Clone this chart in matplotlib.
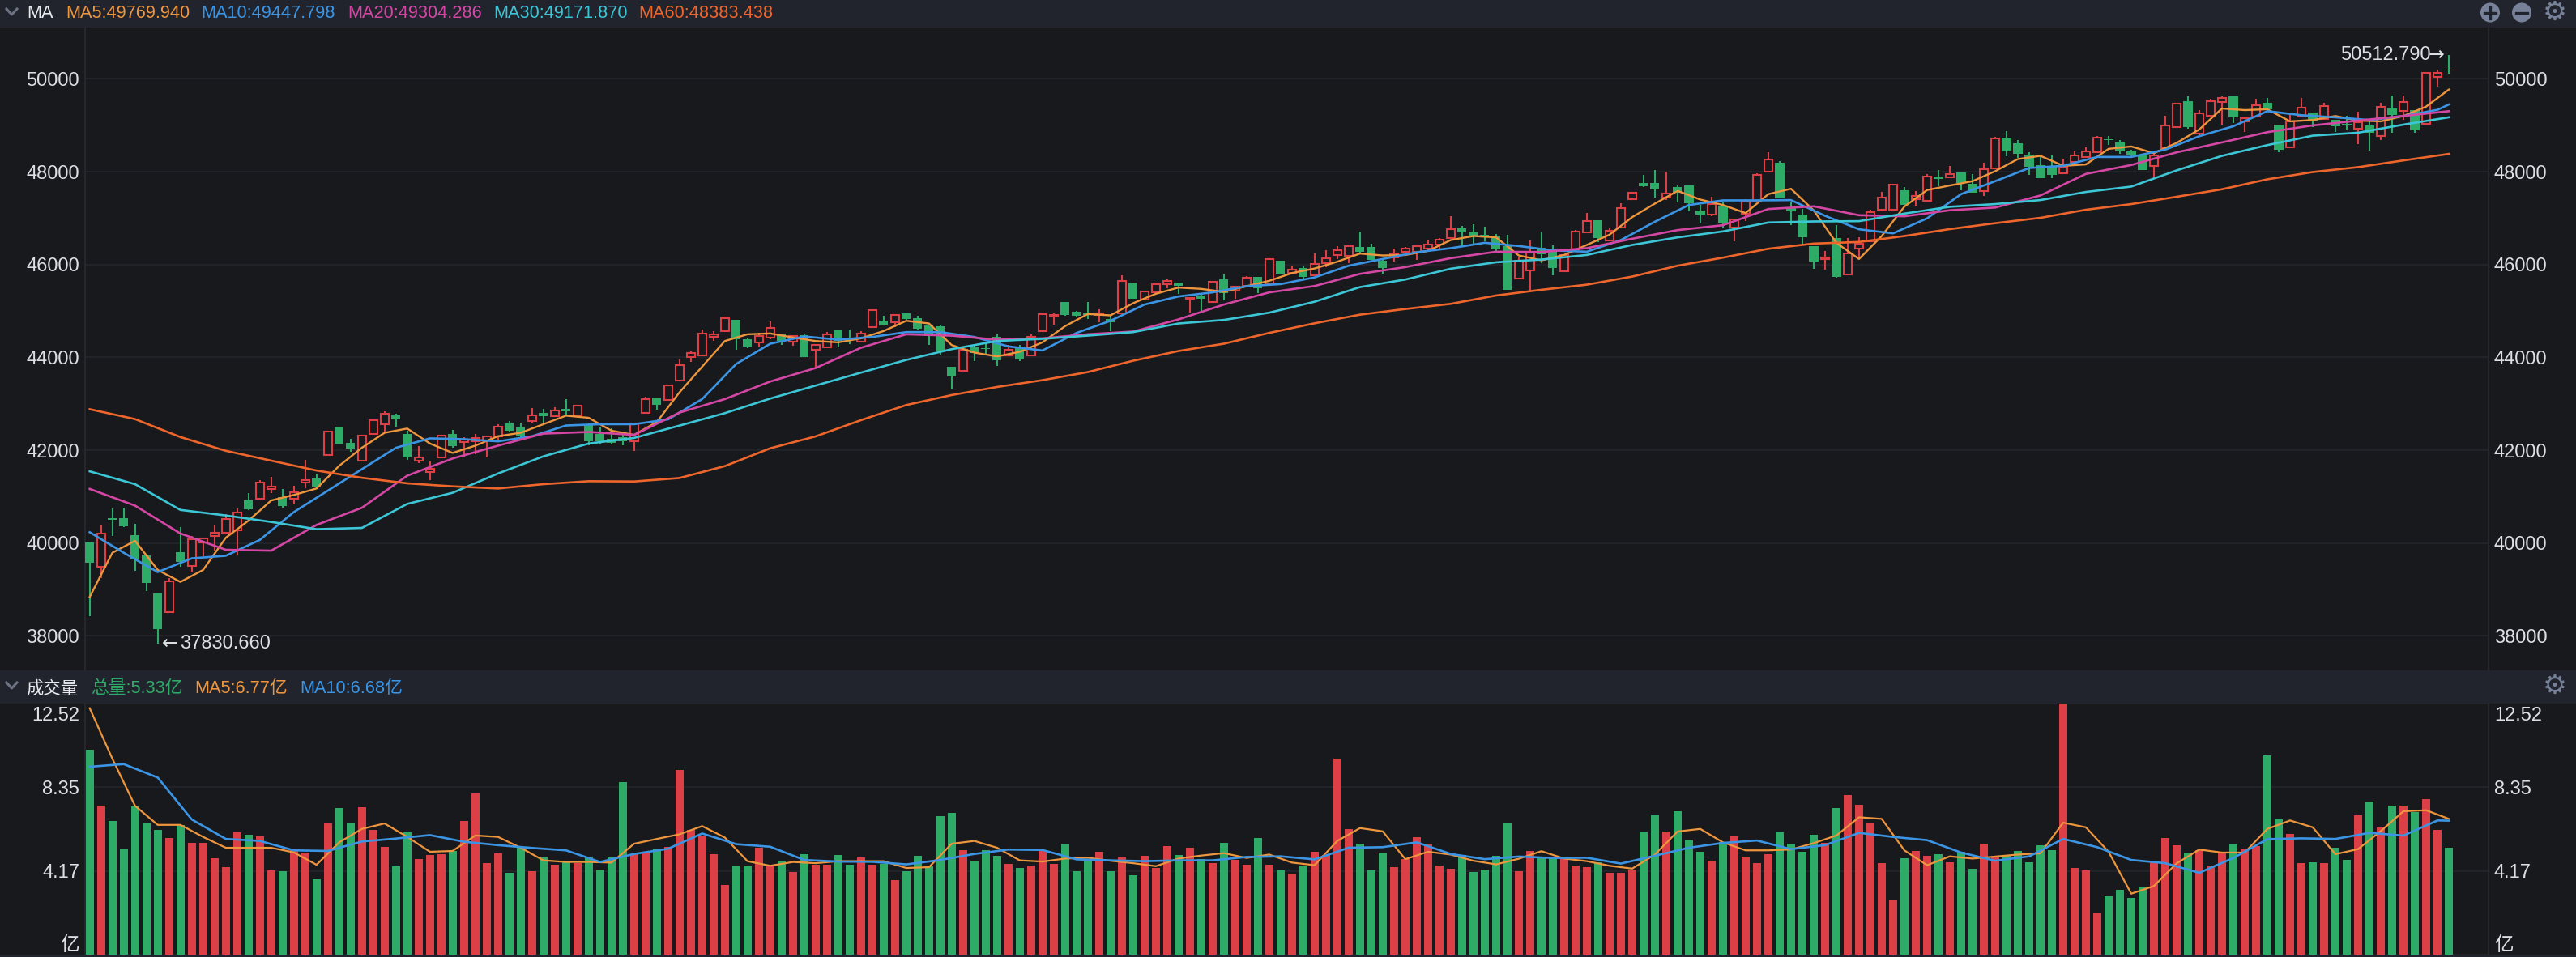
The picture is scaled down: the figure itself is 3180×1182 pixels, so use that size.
import numpy as np
import matplotlib
matplotlib.use('Agg')
import matplotlib.pyplot as plt
from matplotlib.patches import Rectangle, Circle
from matplotlib.transforms import ScaledTranslation

# candles
opens = [40013,39496,40530,40530,40179,39746,38915,38518,39810,39515,
         40022,40161,40226,40281,40917,40955,41167,40992,40955,41296,
         41398,41896,42514,42164,41776,42358,42560,42745,42358,41767,
         41527,41850,42358,42173,42191,42219,42302,42570,42487,42625,
         42810,42727,42884,42745,42561,42358,42238,42284,42191,42811,
         43142,43090,43509,44015,44050,44440,44568,44813,44394,44324,
         44423,44510,44341,44487,44161,44219,44586,44394,44341,44661,
         44801,44755,44952,44848,44685,44673,43800,43713,44219,44208,
         44440,44045,44208,44045,44568,44888,45185,44976,44964,44906,
         44836,44958,45616,45238,45401,45575,45604,45266,45325,45197,
         45674,45430,45546,45732,45579,46085,45829,45922,45771,46039,
         46202,46196,46376,46376,46079,46149,46283,46271,46353,46440,
         46574,46778,46714,46644,46632,46400,45695,45870,46370,46283,
         45852,46324,46696,46952,46516,46801,47401,47761,47761,47441,
         47674,47703,47168,47080,47267,46795,47092,47371,48000,48198,
         47238,47075,46400,46120,46568,45794,46341,46498,47185,47185,
         47598,47413,47373,47900,47877,47982,47738,47576,48069,48736,
         48608,48370,48144,48109,47970,48214,48318,48417,48707,48637,
         48446,48376,48115,48504,48968,49513,48823,49211,49501,49617,
         49084,49182,49478,49014,48533,49188,49269,49142,49113,49037,
         48921,48997,48765,49356,49316,49327,49026,50041,50191]
closes = [39570,40207,40500,40355,39653,39136,38149,39182,39588,40087,
          40096,40226,40511,40659,40733,41305,41222,40807,41093,41361,
          41222,42404,42136,42035,42321,42644,42791,42662,41841,41850,
          41601,42321,42081,42228,42265,42302,42505,42413,42321,42755,
          42736,42856,42838,42958,42191,42191,42164,42191,42579,43102,
          42974,43393,43835,44103,44510,44498,44842,44394,44231,44458,
          44644,44353,44469,44004,44266,44498,44353,44370,44516,45022,
          44685,44906,44819,44615,44458,44132,43585,44167,44103,44184,
          43946,44167,43963,44452,44935,44923,44923,44894,44917,44947,
          44760,45645,45272,45418,45575,45645,45534,45284,45255,45622,
          45389,45517,45721,45488,46120,45812,45887,45742,46021,46138,
          46318,46394,46277,46108,45934,46237,46341,46400,46440,46528,
          46755,46685,46615,46586,46330,45462,46091,46260,46225,45928,
          46208,46714,46929,46574,46731,47208,47546,47692,47610,47534,
          47546,47325,47069,47302,46888,46976,47360,47930,48256,47430,
          47139,46586,46074,46155,45730,46248,46458,47121,47435,47715,
          47284,47477,47895,47848,47953,47761,47547,48057,48718,48434,
          48388,48098,47866,47935,48109,48353,48434,48730,48689,48434,
          48359,48040,48359,48991,49461,48956,49258,49513,49594,49171,
          49153,49432,49345,48475,49084,49385,49101,49420,48985,49014,
          49072,48840,49403,49229,49501,48898,50128,50128,50174]
highs = [40013,40392,40752,40761,40419,39746,38915,39238,40345,40161,
         40124,40392,40622,40752,41084,41361,41435,41158,41241,41792,
         41500,42404,42514,42247,42330,42644,42838,42791,42422,42081,
         41758,42321,42441,42284,42358,42321,42561,42625,42588,42911,
         42884,42930,43096,42958,42580,42514,42470,42394,42579,43160,
         43142,43422,43957,44132,44603,44557,44877,44813,44429,44527,
         44778,44510,44481,44500,44275,44545,44586,44603,44557,45030,
         44894,44935,44952,44894,44702,44680,43800,44170,44295,44306,
         44498,44266,44266,44498,44952,44952,45197,44993,45197,45034,
         44906,45761,45616,45430,45616,45686,45610,45290,45342,45630,
         45779,45530,45750,45732,46130,46085,45975,45957,46248,46312,
         46394,46423,46714,46452,46108,46341,46382,46410,46516,46574,
         47045,46830,46865,46819,46661,46644,46150,46522,46696,46411,
         46215,46743,47109,46952,46778,47313,47560,47936,48041,48006,
         47703,47703,47284,47459,47354,46990,47412,47965,48425,48227,
         47342,47197,46400,46295,46848,46568,46586,47179,47563,47730,
         47674,47587,47953,48040,48127,47990,47953,48196,48753,48869,
         48678,48428,48376,48359,48272,48446,48521,48765,48765,48689,
         48475,48382,48400,49200,49490,49623,49333,49571,49617,49617,
         49188,49565,49594,49020,49258,49594,49275,49478,49120,49200,
         49287,49142,49478,49646,49646,49330,50140,50203,50512.79]
lows = [38435,39238,40161,40340,39395,38961,37830.66,38518,39487,39376,
        39718,39838,40226,39727,40714,40950,41084,40770,40825,41176,
        41176,41896,42136,41961,41776,42330,42376,42515,41785,41730,
        41361,41850,42053,41868,41915,41850,42191,42394,42210,42588,
        42579,42720,42745,42700,42100,42145,42118,42099,41988,42811,
        42869,43090,43509,43899,44030,44353,44568,44161,44208,44237,
        44400,44277,44248,44000,43771,44200,44225,44295,44330,44661,
        44680,44661,44810,44586,44266,44062,43334,43713,43928,44062,
        43812,44030,43916,44040,44560,44702,44900,44860,44830,44760,
        44574,44950,45272,45230,45395,45488,45371,44964,44976,45170,
        45226,45267,45530,45383,45579,45812,45800,45684,45760,45945,
        46120,46039,46260,46100,45812,46062,46190,46108,46277,46324,
        46560,46423,46458,46498,46295,45460,45690,45433,46033,45771,
        45840,46318,46690,46481,46510,46790,47390,47674,47447,47389,
        47342,47150,46877,47040,46789,46498,46935,47360,47995,47425,
        46859,46440,45916,45899,45718,45790,46149,46490,47180,47180,
        47280,47257,47370,47692,47860,47605,47540,47471,48060,48330,
        48301,47935,47860,47854,47953,48200,48290,48410,48579,48388,
        48330,48030,47848,48500,48939,48930,48794,49200,49014,49055,
        48852,49170,49340,48428,48530,49180,48968,49140,48863,48898,
        48591,48463,48678,48834,49113,48834,49020,49838,50116]

# moving averages, read every few candles
ma5 = [38840,39792,40050,39422,39164,39422,40115,40484,40918,41037,41176,41665,42053,
       42376,42468,42145,41942,42099,42302,42376,42561,42745,42699,42422,42330,
       42607,43247,43800,44353,44498,44516,44429,44353,44324,44411,44568,44789,
       44731,44266,44103,44021,44120,44324,44673,44935,44906,45168,45371,45505,
       45476,45412,45534,45650,45817,45916,46062,46237,46196,46207,46295,46528,
       46615,46586,46196,46091,46207,46423,46644,47022,47313,47587,47401,47284,
       47110,47517,47633,47168,46469,46120,46615,47250,47605,47703,47796,48011,
       48272,48341,48127,48156,48492,48544,48399,48620,48910,49362,49327,49345,
       49084,49113,49200,49101,49084,49200,49403,49769.94]
ma10 = [40234,39792,39376,39672,39727,40069,40668,41130,41592,42053,42256,42238,42191,
        42302,42533,42561,42561,42665,43102,43858,44295,44452,44382,44440,44545,
        44545,44440,44237,44149,44527,44789,45139,45313,45401,45534,45579,45724,
        45975,46120,46266,46353,46469,46400,46306,46277,46528,46923,47284,47383,
        47383,47389,47051,46760,46673,46996,47518,47796,48080,48127,48318,48318,
        48475,48765,48979,49304,49217,49171,49113,49200,49333,49447.798]
ma20 = [41167,40807,40207,39856,39838,40392,40761,41453,41822,42099,42358,42394,42330,
        42811,43102,43480,43771,44208,44498,44469,44382,44411,44498,44557,44819,
        45139,45401,45538,45800,45946,46138,46277,46271,46353,46557,46743,46848,
        47197,47255,47063,47040,47170,47228,47489,47953,48144,48417,48631,48852,
        48997,49101,49200,49304.286]
ma30 = [41546,41269,40715,40595,40456,40300,40327,40844,41084,41499,41868,42145,42265,
        42531,42799,43113,43393,43672,43946,44178,44353,44400,44469,44545,44731,
        44807,44964,45200,45515,45678,45911,46050,46108,46207,46423,46586,46714,
        46906,46929,46935,47098,47245,47303,47390,47564,47680,48028,48341,48573,
        48776,48840,49014,49171.87]
ma60 = [42884,42671,42284,41988,41776,41563,41407,41287,41222,41176,41269,41333,41327,
        41402,41658,42042,42298,42648,42974,43189,43363,43509,43684,43928,44138,
        44295,44528,44735,44921,45043,45154,45334,45457,45567,45742,45975,46149,
        46341,46452,46487,46615,46764,46891,47007,47181,47303,47460,47622,47837,
        47993,48098,48243,48383.438]

# volume in 亿
volume = [10.20,7.42,6.65,5.28,7.38,6.57,6.21,5.80,6.45,5.56,
          5.56,4.79,4.35,6.08,5.96,5.88,4.19,4.15,5.30,5.10,
          3.74,6.53,7.30,6.57,7.34,6.21,5.36,4.39,6.08,4.75,
          4.95,4.99,5.16,6.65,8.02,4.55,5.03,4.06,5.36,4.15,
          4.83,4.47,4.62,4.55,4.83,4.23,4.87,8.59,4.99,5.10,
          5.28,5.36,9.21,6.21,5.92,4.99,3.46,4.43,4.43,5.32,
          4.39,4.63,4.11,4.99,4.47,4.47,4.95,4.47,4.83,4.47,
          4.51,3.70,4.15,4.91,4.39,6.89,7.05,5.20,4.67,5.20,
          4.91,4.51,4.31,4.43,5.20,4.51,5.48,4.15,4.63,5.11,
          4.15,4.83,3.94,4.91,4.31,5.40,4.95,5.32,4.75,4.55,
          5.56,4.71,4.47,5.80,4.47,4.19,4.02,4.43,5.11,4.95,
          9.76,6.25,5.52,4.19,5.07,4.35,4.75,5.84,5.52,4.43,
          4.27,4.95,4.11,4.23,4.91,6.57,4.15,5.16,4.87,4.79,
          4.79,4.43,4.35,4.59,4.06,4.06,4.23,6.08,6.93,6.12,
          7.13,5.72,5.11,4.67,5.60,5.88,4.87,4.55,4.99,6.08,
          5.52,5.11,5.96,5.56,7.30,7.94,7.46,6.57,4.55,2.69,
          4.79,5.16,4.91,4.99,4.59,5.11,4.27,5.52,4.87,4.95,
          5.16,4.59,5.44,5.20,12.52,4.31,4.19,2.05,2.89,3.22,
          2.81,3.34,4.59,5.80,5.44,5.07,5.20,4.43,5.07,5.48,
          5.28,5.40,9.92,6.73,6.00,4.55,4.59,4.55,5.32,4.71,
          6.95,7.62,6.33,7.42,7.42,7.09,7.74,6.21,5.33]
vol_ma5 = [12.29,9.77,7.42,6.47,6.47,5.87,5.33,5.33,5.33,5.10,4.48,5.60,6.27,6.54,5.87,
           5.13,5.17,5.94,5.87,5.33,4.70,4.62,4.62,4.59,5.53,5.77,6.00,6.41,5.84,4.66,
           4.43,4.62,4.56,4.66,4.66,4.66,4.32,4.36,5.53,5.67,5.33,4.70,4.64,4.79,4.83,
           4.68,4.56,4.41,4.79,4.94,5.06,4.82,4.99,4.59,4.46,5.67,6.31,6.15,4.76,5.13,
           4.99,4.68,4.50,4.78,5.16,4.79,4.66,4.43,4.29,4.99,6.14,6.27,5.60,5.20,5.20,
           5.24,5.56,5.94,6.85,6.77,5.20,4.46,4.90,4.79,4.89,4.99,5.05,6.58,6.35,5.13,
           3.04,3.42,4.55,5.24,5.09,5.09,6.27,6.69,6.35,5.01,5.26,6.16,7.15,7.20,6.77]
vol_ma10 = [9.37,9.50,8.83,6.74,5.77,5.67,5.20,5.17,5.64,5.79,5.96,5.63,5.46,5.32,5.20,
            4.62,5.02,5.28,6.04,5.51,5.38,4.72,4.64,4.63,4.50,4.72,5.02,5.24,5.22,4.75,
            4.70,4.66,4.70,4.70,4.87,4.90,4.75,5.33,5.36,5.60,5.02,4.76,4.89,4.82,4.83,
            4.54,4.93,5.33,5.57,5.69,5.26,5.46,6.07,5.87,5.71,5.09,4.68,4.90,5.77,5.36,
            4.72,4.56,4.08,4.82,5.76,5.80,5.77,6.07,5.94,6.69,6.68]

price_ticks = [38000,40000,42000,44000,46000,48000,50000]
vol_ticks = [0,4.17,8.35,12.52]
vol_tick_labels = ['亿','4.17','8.35','12.52']

W, H = 3180, 1182
BG = '#18191d'
HEAD = '#21242d'
RED = '#dd3f47'
GREEN = '#2fab68'
C5 = '#ee963e'
C10 = '#3b95e4'
C20 = '#d547a4'
C30 = '#3cc6d6'
C60 = '#ee662c'
TXT = '#dcdfe4'
ICON = '#77829a'
FONT = ['Liberation Sans', 'Noto Sans CJK SC']
plt.rcParams['font.family'] = FONT

def pix_axes(x0, y0, x1, y1):
    # axes placed by pixels, y counted from the top
    return fig.add_axes([x0/W, 1-y1/H, (x1-x0)/W, (y1-y0)/H])

fig = plt.figure(figsize=(W/100, H/100), dpi=100, facecolor=BG)

# page layer in pixel coordinates: header bars, legends, icons
page = fig.add_axes([0,0,1,1], zorder=-1)
page.set_xlim(0,W)
page.set_ylim(H,0)
page.axis('off')
page.add_patch(Rectangle((0,0), W, 34, fc=HEAD, ec='none'))
page.add_patch(Rectangle((0,828), W, 41, fc=HEAD, ec='none'))
page.add_patch(Rectangle((0,1179), W, 3, fc=HEAD, ec='none'))
for yc in [15, 847]:
    page.plot([8,14.5,21], [yc-4,yc+3,yc-4], color='#6d7484', lw=2.2)

page.text(33, 16, 'MA', color='#e8eaee', fontsize=15.7, va='center')
legend_top = [(81,'MA5:49769.940',C5), (248,'MA10:49447.798',C10), (429,'MA20:49304.286',C20),
              (609,'MA30:49171.870',C30), (788,'MA60:48383.438',C60)]
for x, s, c in legend_top:
    page.text(x, 16, s, color=c, fontsize=15.7, va='center')
page.text(32, 850, '成交量', color='#e8eaee', fontsize=15.4, va='center')
legend_vol = [(112,'总量:5.33亿',GREEN), (240,'MA5:6.77亿',C5), (370,'MA10:6.68亿',C10)]
for x, s, c in legend_vol:
    page.text(x, 850, s, color=c, fontsize=15.7, va='center')

# zoom and settings icons
page.add_patch(Circle((3074,15.5), 12, fc=ICON, ec='none'))
page.add_patch(Circle((3113,15.5), 12, fc=ICON, ec='none'))
page.plot([3067,3081], [15.5,15.5], color=HEAD, lw=2.4)
page.plot([3074,3074], [8.5,22.5], color=HEAD, lw=2.4)
page.plot([3106,3120], [15.5,15.5], color=HEAD, lw=2.4)
page.text(3154, 15, '\u2699', color=ICON, fontsize=24, family='DejaVu Sans', ha='center', va='center')
page.text(3154, 847, '\u2699', color=ICON, fontsize=24, family='DejaVu Sans', ha='center', va='center')

x = np.arange(len(opens))
opens = np.array(opens, dtype=float)
closes = np.array(closes, dtype=float)
up = closes >= opens
colors = [RED if u else GREEN for u in up]
X0, X1 = -0.407, 211.5

# price panel
ax = pix_axes(105, 34, 3072, 828)
ax.set_facecolor(BG)
ax.set_xlim(X0, X1)
ax.set_ylim(37258, 51106)
ax.set_yticks(price_ticks)
ax.grid(axis='y', color='#24262c', lw=1.2)
ax.set_axisbelow(True)
ax.vlines(x, lows, highs, colors=colors, lw=1.5, zorder=2)
body_low = np.minimum(opens, closes)
body_h = np.abs(closes-opens)
ax.bar(x[~up], body_h[~up], 0.8, bottom=body_low[~up], color=GREEN, lw=0, zorder=3)
ax.bar(x[up], body_h[up], 0.72, bottom=body_low[up], facecolor=BG, edgecolor=RED, lw=1.5, zorder=3)

steps = [(ma5,2,C5,1.7), (ma10,3,C10,1.9), (ma20,4,C20,1.9), (ma30,4,C30,1.9), (ma60,4,C60,1.9)]
for vals, step, c, lw in steps:
    idx = list(range(0, len(x), step))
    if idx[-1] != len(x)-1:
        idx.append(len(x)-1)
    ax.plot(idx, vals, color=c, lw=lw, zorder=4, solid_joinstyle='round')

# the arrows come from DejaVu, Liberation draws them too small
ax.annotate('\u2190', (6,37830.66), xytext=(4,0), textcoords='offset points', color=TXT,
            fontsize=17, family='DejaVu Sans', va='center', ha='left', zorder=5)
ax.annotate('37830.660', (6,37830.66), xytext=(19.5,0), textcoords='offset points',
            color=TXT, fontsize=17, va='center', ha='left', zorder=5)
ax.annotate('\u2192', (208,50512.79), xytext=(-4,0), textcoords='offset points', color=TXT,
            fontsize=17, family='DejaVu Sans', va='center', ha='right', zorder=5)
ax.annotate('50512.790', (208,50512.79), xytext=(-16,0), textcoords='offset points',
            color=TXT, fontsize=17, va='center', ha='right', zorder=5)

# volume panel
ax2 = pix_axes(105, 869, 3072, 1179)
ax2.set_facecolor(BG)
ax2.set_xlim(X0, X1)
ax2.set_ylim(0, 12.52)
ax2.set_yticks(vol_ticks)
ax2.set_yticklabels(vol_tick_labels)
ax2.grid(axis='y', color='#24262c', lw=1.2)
ax2.set_axisbelow(True)
ax2.bar(x, volume, 0.72, color=colors, lw=0, zorder=2)
for vals, step, c, lw in [(vol_ma5,2,C5,1.6), (vol_ma10,3,C10,1.9)]:
    idx = list(range(0, len(x), step))
    if idx[-1] != len(x)-1:
        idx.append(len(x)-1)
    ax2.plot(idx, vals, color=c, lw=lw, zorder=3)

for a in [ax, ax2]:
    a.set_xticks([])
    a.tick_params(axis='y', length=0, labelleft=True, labelright=True, labelcolor=TXT,
                  labelsize=17, pad=5)
    for s in ['top','bottom']:
        a.spines[s].set_visible(False)
    for s in ['left','right']:
        a.spines[s].set_color('#282a31')
        a.spines[s].set_linewidth(1.2)

ticks = ax2.yaxis.get_major_ticks()
for t in [ticks[0].label1, ticks[0].label2]:
    t.set_va('bottom')
for t in [ticks[3].label1, ticks[3].label2]:
    t.set_va('top')
    t.set_transform(t.get_transform() + ScaledTranslation(0, -4/100, fig.dpi_scale_trans))

fig.savefig('out.png', dpi=100, facecolor=BG)
